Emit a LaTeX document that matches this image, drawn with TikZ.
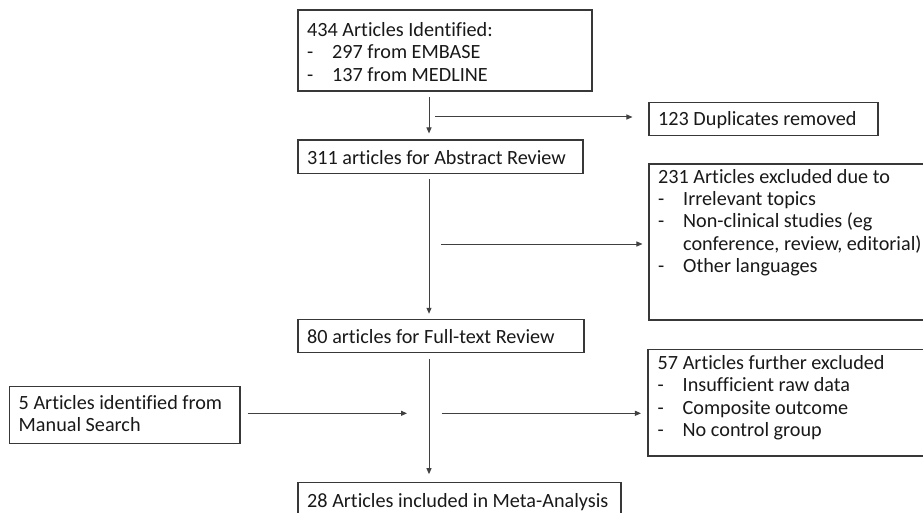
\documentclass[tikz,border=0pt]{standalone}
\usepackage{fontspec}
\setmainfont{Carlito}[Ligatures=NoCommon]
\usetikzlibrary{arrows.meta}
\newcommand\dashitem{\makebox[25pt][l]{-}}
\newcommand\contline{\hspace*{25pt}}
\begin{document}
\begin{tikzpicture}[x=1pt,y=-1pt,
  bx/.style={draw=black!78, line width=1.1pt, rectangle, inner sep=0pt},
  tx/.style={inner sep=0pt, align=left, anchor=base west, text=black!90,
             font=\fontsize{20.2}{22.4}\selectfont},
  arr/.style={draw=black!75, line width=1pt, -{Triangle[length=6pt,width=5pt]}}]
\clip (0,0) rectangle (923,513);
\fill[white] (0,0) rectangle (923,513);

% boxes
\node[bx, minimum width=294pt, minimum height=81pt]   (b1)  at (445,50.5)   {};
\node[bx, minimum width=285pt, minimum height=33.3pt] (b2)  at (440.5,156.65) {};
\node[bx, minimum width=229pt, minimum height=33.4pt] (dup) at (763.5,119)  {};
\node[bx, minimum width=286pt, minimum height=156pt]  (ex1) at (792,242)    {};
\node[bx, minimum width=286pt, minimum height=33.4pt] (b3)  at (441,336)    {};
\node[bx, minimum width=287pt, minimum height=106.7pt](ex2) at (791.5,402.65) {};
\node[bx, minimum width=230.7pt, minimum height=56.6pt](man) at (124.65,415) {};
\node[bx, minimum width=323pt, minimum height=42.3pt] (b4)  at (459.5,503.85) {};

% texts (anchor = baseline of the last line)
\node[tx] (t1) at (307,81.3) {434 Articles Identified:\\ \dashitem 297 from EMBASE\\ \dashitem 137 from MEDLINE};
\node[tx] (t2) at (307,164.3) {311 articles for Abstract Review};
\node[tx] (tdup) at (658,125.7) {123 Duplicates removed};
\node[tx] (tex1) at (658,272.6) {231 Articles excluded due to\\ \dashitem Irrelevant topics\\ \dashitem Non-clinical studies (eg\\ \contline conference, review, editorial)\\ \dashitem Other languages};
\node[tx] (t3) at (307,343.3) {80 articles for Full-text Review};
\node[tx] (tex2) at (657.5,436.5) {57 Articles further excluded\\ \dashitem Insufficient raw data\\ \dashitem Composite outcome\\ \dashitem No control group};
\node[tx] (tman) at (18.5,431.9) {5 Articles identified from\\ Manual Search};
\node[tx] (t4) at (307,507.3) {28 Articles included in Meta-Analysis};

% connectors
\coordinate (spine) at (429,0);
\draw[arr, shorten <=5.5pt, shorten >=6pt] (b1.south -| spine) -- (b2.north -| spine);
\coordinate (j1) at (429,117);
\draw[arr, shorten >=16pt] ([xshift=6pt]j1) -- (j1 -| dup.west);
\draw[arr, shorten <=5.5pt, shorten >=5pt] (b2.south -| spine) -- (b3.north -| spine);
\coordinate (j2) at (429,244);
\draw[arr, shorten >=6pt] ([xshift=12pt]j2) -- (j2 -| ex1.west);
\draw[arr, shorten <=5.5pt, shorten >=8pt] (b3.south -| spine) -- (b4.north -| spine);
\coordinate (j3) at (429,413.3);
\draw[arr, shorten >=6.5pt] ([xshift=12.5pt]j3) -- (j3 -| ex2.west);
\coordinate (mtip) at (407,413.3);
\draw[arr, shorten <=7pt] (man.east |- j3) -- (mtip);
\end{tikzpicture}
\end{document}
